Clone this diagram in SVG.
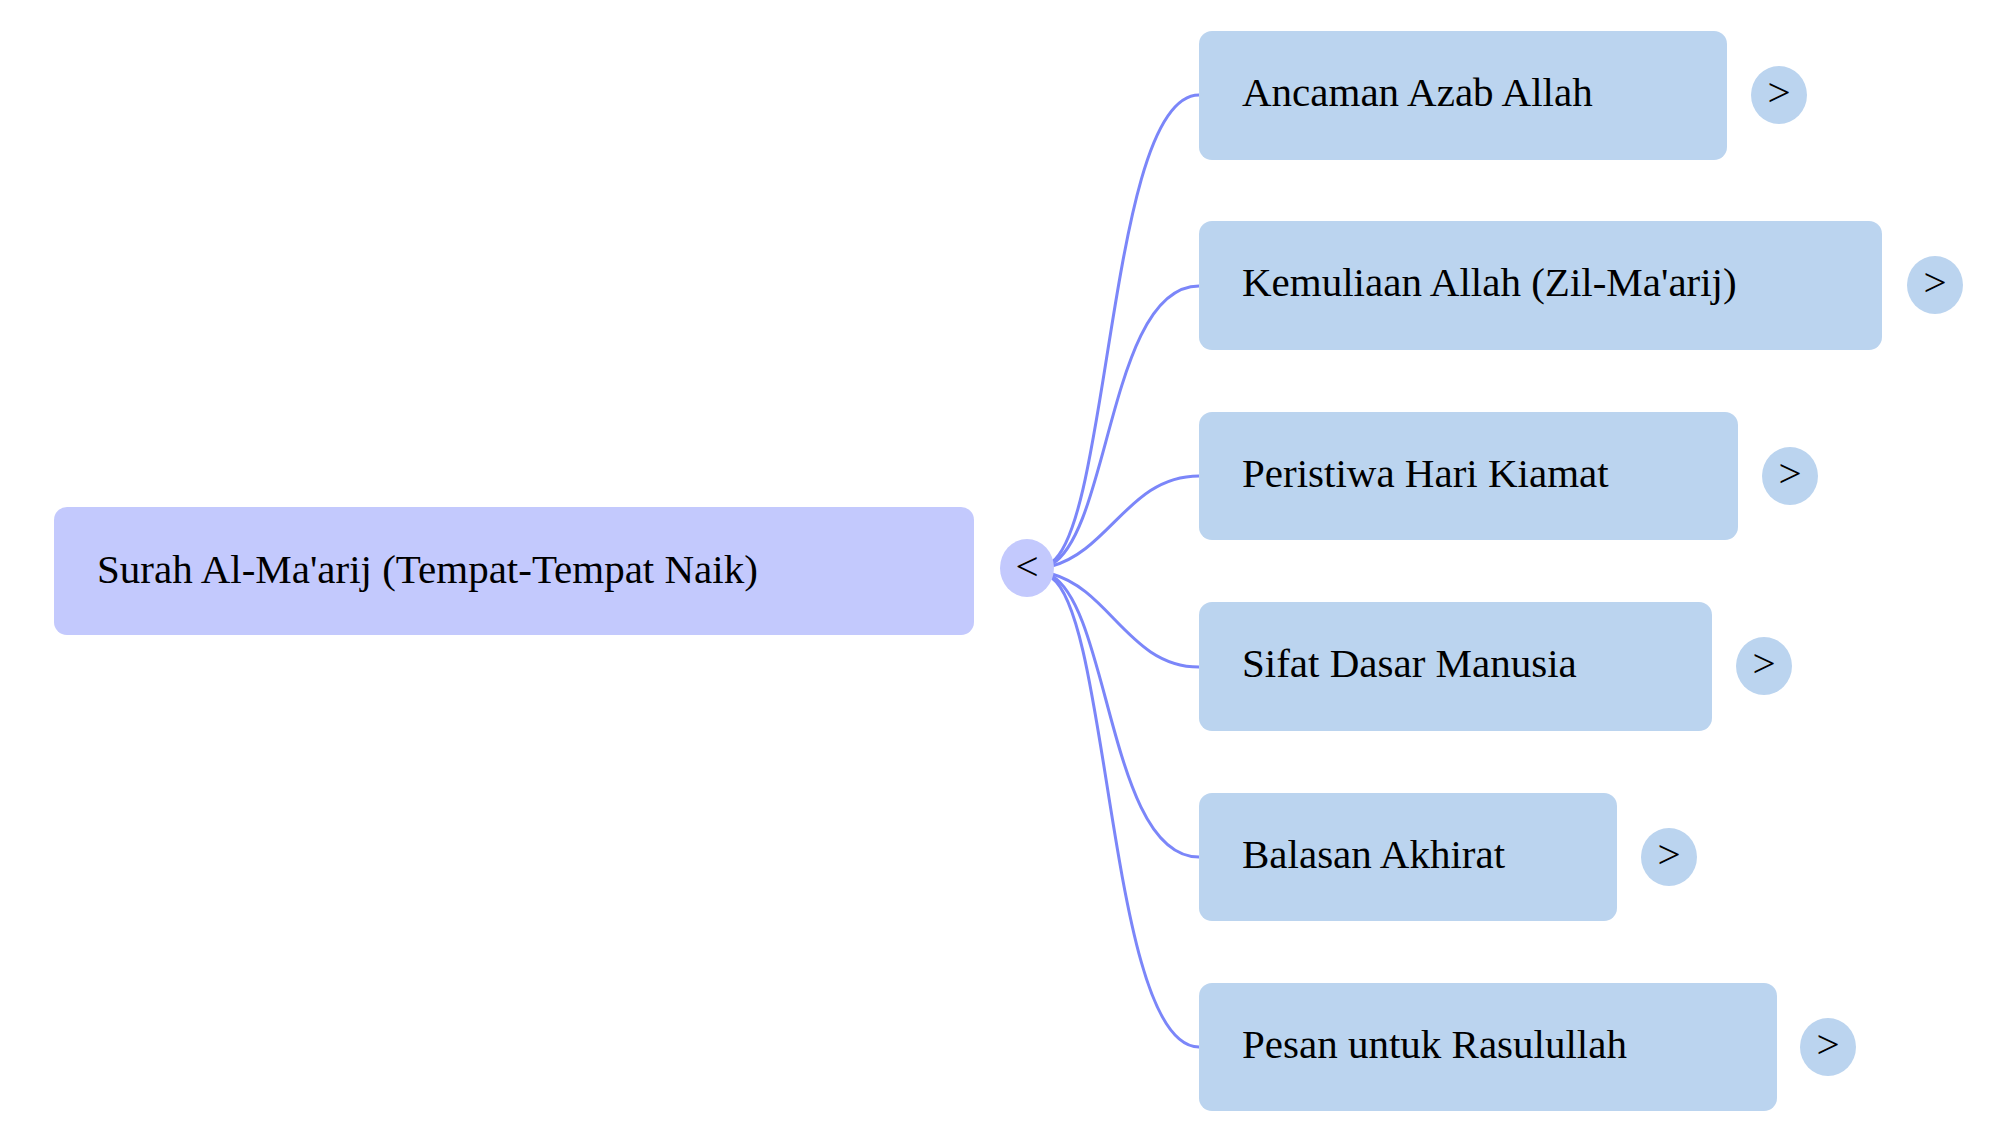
<svg xmlns="http://www.w3.org/2000/svg" width="2007" height="1136" viewBox="0 0 2007 1136">
<style>
.t{font-family:"Liberation Serif","Times New Roman",serif;font-size:41px;fill:#000}
.c{fill:#bbd4ef}
.e{fill:none;stroke:#7b86f9;stroke-width:3}
</style>
<rect width="2007" height="1136" fill="#fff"/>
<g id="connectors">
<path class="e" d="M1052,562 C1110,520 1110,95 1199,95"/>
<path class="e" d="M1052,564 C1110,530 1110,286 1199,286"/>
<path class="e" d="M1052,566 C1110,550 1130,476 1199,476"/>
<path class="e" d="M1052,574 C1110,590 1130,667 1199,667"/>
<path class="e" d="M1052,576 C1110,610 1110,857 1199,857"/>
<path class="e" d="M1052,578 C1110,620 1110,1047 1199,1047"/>
</g>
<g id="root">
<rect x="54" y="507" width="920" height="128" rx="13" fill="#c3c9fd"/>
<text class="t" x="97" y="583">Surah Al-Ma'arij (Tempat-Tempat Naik)</text>
<ellipse cx="1027" cy="568" rx="27" ry="29" fill="#c3c9fd"/>
<text class="t" x="1027" y="580" text-anchor="middle">&lt;</text>
</g>
<g id="n1"><rect class="c" x="1199" y="31" width="528" height="129" rx="13"/><text class="t" x="1242" y="106">Ancaman Azab Allah</text><ellipse class="c" cx="1779" cy="95" rx="28" ry="29"/><text class="t" x="1779" y="106" text-anchor="middle">&gt;</text></g>
<g id="n2"><rect class="c" x="1199" y="221" width="683" height="129" rx="13"/><text class="t" x="1242" y="296">Kemuliaan Allah (Zil-Ma'arij)</text><ellipse class="c" cx="1935" cy="285" rx="28" ry="29"/><text class="t" x="1935" y="296" text-anchor="middle">&gt;</text></g>
<g id="n3"><rect class="c" x="1199" y="412" width="539" height="128" rx="13"/><text class="t" x="1242" y="487">Peristiwa Hari Kiamat</text><ellipse class="c" cx="1790" cy="476" rx="28" ry="29"/><text class="t" x="1790" y="487" text-anchor="middle">&gt;</text></g>
<g id="n4"><rect class="c" x="1199" y="602" width="513" height="129" rx="13"/><text class="t" x="1242" y="677">Sifat Dasar Manusia</text><ellipse class="c" cx="1764" cy="666" rx="28" ry="29"/><text class="t" x="1764" y="677" text-anchor="middle">&gt;</text></g>
<g id="n5"><rect class="c" x="1199" y="793" width="418" height="128" rx="13"/><text class="t" x="1242" y="868">Balasan Akhirat</text><ellipse class="c" cx="1669" cy="857" rx="28" ry="29"/><text class="t" x="1669" y="868" text-anchor="middle">&gt;</text></g>
<g id="n6"><rect class="c" x="1199" y="983" width="578" height="128" rx="13"/><text class="t" x="1242" y="1058">Pesan untuk Rasulullah</text><ellipse class="c" cx="1828" cy="1047" rx="28" ry="29"/><text class="t" x="1828" y="1058" text-anchor="middle">&gt;</text></g>
</svg>
